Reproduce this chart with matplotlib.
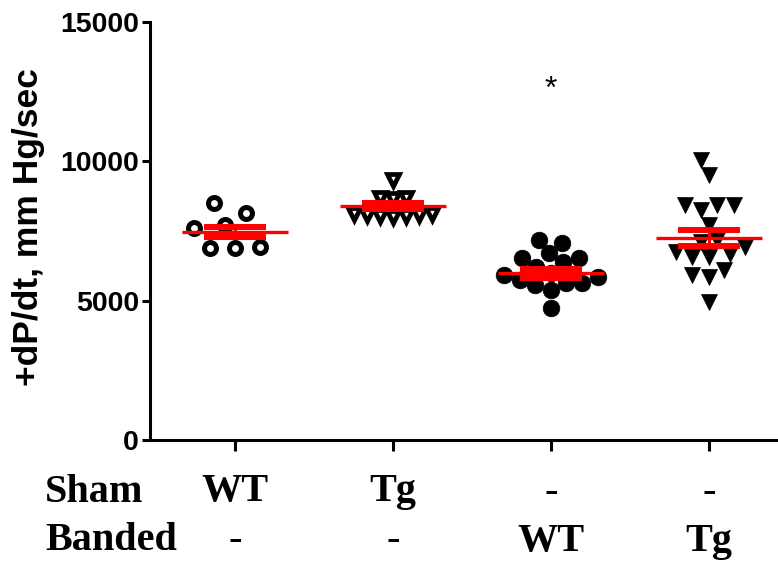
import numpy as np
import matplotlib
matplotlib.use("Agg")
import matplotlib.pyplot as plt

# values (dP/dt, mm Hg/sec)
sham_wt = [8500, 8150, 7700, 7600, 6900, 6880, 6920]
sham_tg = [9330, 8680, 8700, 8660, 8050, 8100, 8000, 8080, 8050, 8110, 8070]
banded_wt = [7180, 7070, 6710, 6530, 6530, 6390, 6210, 5990, 5920, 5850,
             5750, 5630, 5630, 5560, 5380, 4740]
banded_tg = [10050, 9510, 8430, 8430, 8250, 8430, 7710, 7100, 7170, 6750,
             6570, 6680, 6570, 6930, 5920, 5850, 6100, 4950]
groups = [sham_wt, sham_tg, banded_wt, banded_tg]
means = [7470, 8400, 5980, 7250]
sems = [190, 100, 150, 300]
star_at = 12560  # significance mark over banded WT

sham_labels = ["WT", "Tg", "-", "-"]
banded_labels = ["-", "-", "WT", "Tg"]

markers = ["o", "v", "o", "v"]
faces = ["white", "white", "black", "black"]
msizes = [8.6, 9.0, 12.0, 11.5]
mews = [3.6, 3.4, 0.5, 0.5]
swarm_gap = [25, 13, 16.5, 17]  # px between neighbouring points

SANS = ["Liberation Sans", "DejaVu Sans"]
SERIF = ["Liberation Serif", "DejaVu Serif"]
RED = "#ff0000"


def swarm_offsets(vals, gap, px_per_val, px_per_x):
    # simple beeswarm: put each point as close to the centre as it fits
    order = np.argsort(vals)
    placed = []
    xs = np.zeros(len(vals))
    for i in order:
        y = vals[i] * px_per_val
        spans = []
        for px, py in placed:
            dy = abs(py - y)
            if dy < gap:
                w = np.sqrt(gap ** 2 - dy ** 2)
                spans.append((px - w, px + w))
        cands = [0.0] + [a for a, b in spans] + [b for a, b in spans]
        cands.sort(key=abs)
        for c in cands:
            if all(not (a + 1e-6 < c < b - 1e-6) for a, b in spans):
                break
        xs[i] = c / px_per_x
        placed.append((c, y))
    return xs


fig = plt.figure(figsize=(7.78, 5.65), dpi=100)
ax = fig.add_axes([150 / 778, 1 - 440 / 565, 1 - 150 / 778, (440 - 22) / 565])
ax.set_xlim(-0.538, 3.437)
ax.set_ylim(0, 15000)

p0, p1 = ax.transData.transform([(0, 0), (1, 1)])
px_per_x = p1[0] - p0[0]
px_per_val = p1[1] - p0[1]

for i, vals in enumerate(groups):
    off = swarm_offsets(np.array(vals, float), swarm_gap[i], px_per_val, px_per_x)
    ax.plot(i + off, vals, linestyle="none", marker=markers[i], ms=msizes[i],
            mfc=faces[i], mec="black", mew=mews[i], zorder=2, clip_on=False)
    ax.hlines(means[i], i - 0.335, i + 0.335, color=RED, lw=2.4, zorder=3)
    ax.errorbar(i, means[i], yerr=sems[i], fmt="none", ecolor=RED,
                elinewidth=2.2, capsize=22, capthick=4.3, zorder=3)

ax.text(2, star_at, "*", ha="center", va="center", fontsize=23,
        family=SANS, color="black")

for s in ["top", "right"]:
    ax.spines[s].set_visible(False)
for s in ["left", "bottom"]:
    ax.spines[s].set_linewidth(2.2)

ax.set_yticks([0, 5000, 10000, 15000])
ax.set_yticklabels(["0", "5000", "10000", "15000"], family=SANS,
                   fontweight="bold", fontsize=20.5)
ax.set_xticks(range(4))
ax.set_xticklabels([])
ax.tick_params(axis="both", direction="out", width=2.2, length=6)
ax.tick_params(axis="y", pad=2)
ax.tick_params(axis="x", length=8)

fig.text(29 / 778, 1 - 227 / 565, "+dP/dt, mm Hg/sec", rotation=90,
         ha="center", va="center", family=SANS, fontweight="bold", fontsize=25.5)

row_font = dict(family=SERIF, fontweight="bold", fontsize=29)
fig.text(45 / 778, 1 - 492 / 565, "Sham", ha="left", va="center", **row_font)
fig.text(45 / 778, 1 - 541 / 565, "Banded", ha="left", va="center", **row_font)
xfig = ax.get_xaxis_transform()
for i in range(4):
    ax.text(i, -52 / 418, sham_labels[i], transform=xfig, ha="center",
            va="center", **row_font)
    ax.text(i, -101 / 418, banded_labels[i], transform=xfig, ha="center",
            va="center", **row_font)

fig.savefig("out.png", dpi=100)
